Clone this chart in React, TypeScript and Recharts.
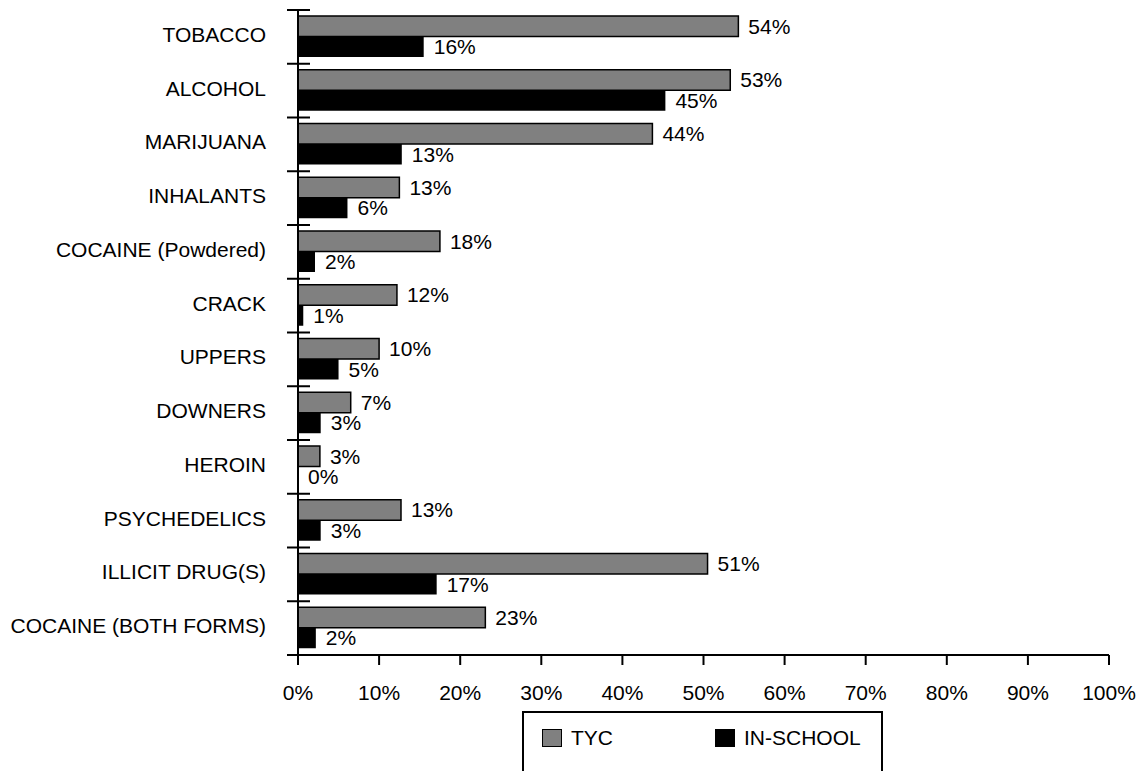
import { Bar, BarChart, LabelList, XAxis, YAxis } from 'recharts'

// Drug use among TYC youth vs. in-school youth (percent)
const CATEGORIES = [
  'TOBACCO',
  'ALCOHOL',
  'MARIJUANA',
  'INHALANTS',
  'COCAINE (Powdered)',
  'CRACK',
  'UPPERS',
  'DOWNERS',
  'HEROIN',
  'PSYCHEDELICS',
  'ILLICIT DRUG(S)',
  'COCAINE (BOTH FORMS)',
]
const TYC = [54.3, 53.3, 43.7, 12.5, 17.5, 12.2, 10.0, 6.5, 2.7, 12.7, 50.5, 23.1]
const IN_SCHOOL = [15.5, 45.3, 12.8, 6.1, 2.1, 0.65, 5.0, 2.8, 0, 2.8, 17.1, 2.2]
const X_TICKS = [0, 10, 20, 30, 40, 50, 60, 70, 80, 90, 100]
const SERIES = [
  { key: 'tyc', name: 'TYC', color: '#808080' },
  { key: 'inSchool', name: 'IN-SCHOOL', color: '#000000' },
]

const FONT = '"Liberation Sans", Arial, sans-serif'
const PLOT_TOP = 10
const PLOT_BOTTOM = 655
const BAND = (PLOT_BOTTOM - PLOT_TOP) / CATEGORIES.length

const rows = CATEGORIES.map((name, i) => ({ name, tyc: TYC[i], inSchool: IN_SCHOOL[i] }))

const pct = (v: number) => `${Math.round(v)}%`

function CategoryTick(props: any) {
  const { y, payload, index } = props
  const half = BAND / 2
  return (
    <g>
      <line x1={287} x2={310} y1={y - half} y2={y - half} stroke="#000" strokeWidth={2} />
      {index === CATEGORIES.length - 1 && (
        <line x1={287} x2={310} y1={y + half} y2={y + half} stroke="#000" strokeWidth={2} />
      )}
      <text x={266} y={y + 5} textAnchor="end" fontSize={21} fontFamily={FONT} fill="#000">
        {payload.value}
      </text>
    </g>
  )
}

function LegendBox() {
  return (
    <div
      style={{
        position: 'absolute',
        left: 522,
        top: 711,
        width: 357,
        height: 70,
        border: '2px solid #000',
        borderBottom: 'none',
        fontFamily: FONT,
        fontSize: 21,
        color: '#000',
      }}
    >
      {SERIES.map((s, i) => (
        <div key={s.key} style={{ position: 'absolute', left: i === 0 ? 18 : 191, top: 15, display: 'flex', alignItems: 'center' }}>
          <span
            style={{
              display: 'inline-block',
              width: 20,
              height: 18,
              background: s.color,
              boxSizing: 'border-box',
              border: '1.5px solid #000',
            }}
          />
          <span style={{ marginLeft: 9, lineHeight: '20px' }}>{s.name}</span>
        </div>
      ))}
    </div>
  )
}

export default function App() {
  return (
    <div style={{ position: 'absolute', left: 0, top: 0, width: 1138, height: 771, overflow: 'hidden', background: '#fff' }}>
      <BarChart
        width={1138}
        height={771}
        data={rows}
        layout="vertical"
        margin={{ top: PLOT_TOP, right: 29, bottom: 771 - PLOT_BOTTOM - 60, left: 0 }}
        barSize={20.5}
        barGap={0}
      >
        <XAxis
          type="number"
          domain={[0, 100]}
          ticks={X_TICKS}
          interval={0}
          tickFormatter={(v: number) => `${v}%`}
          axisLine={{ stroke: '#000', strokeWidth: 2 }}
          tickLine={{ stroke: '#000', strokeWidth: 2 }}
          tickSize={10}
          tickMargin={20}
          height={60}
          tick={{ fill: '#000', fontSize: 21, fontFamily: FONT }}
        />
        <YAxis
          type="category"
          dataKey="name"
          width={298}
          interval={0}
          axisLine={{ stroke: '#000', strokeWidth: 2 }}
          tickLine={false}
          tick={(p: any) => <CategoryTick {...p} />}
        />
        <Bar dataKey="tyc" name="TYC" fill="#808080" stroke="#000" strokeWidth={1.5} isAnimationActive={false}>
          <LabelList dataKey="tyc" position="right" offset={10} formatter={(v: any) => pct(Number(v))} fill="#000" stroke="none" fontSize={21} fontFamily={FONT} />
        </Bar>
        <Bar dataKey="inSchool" name="IN-SCHOOL" fill="#000" minPointSize={0.05} isAnimationActive={false}>
          <LabelList dataKey="inSchool" position="right" offset={10} formatter={(v: any) => pct(Number(v))} fill="#000" stroke="none" fontSize={21} fontFamily={FONT} />
        </Bar>
      </BarChart>
      <LegendBox />
    </div>
  )
}
